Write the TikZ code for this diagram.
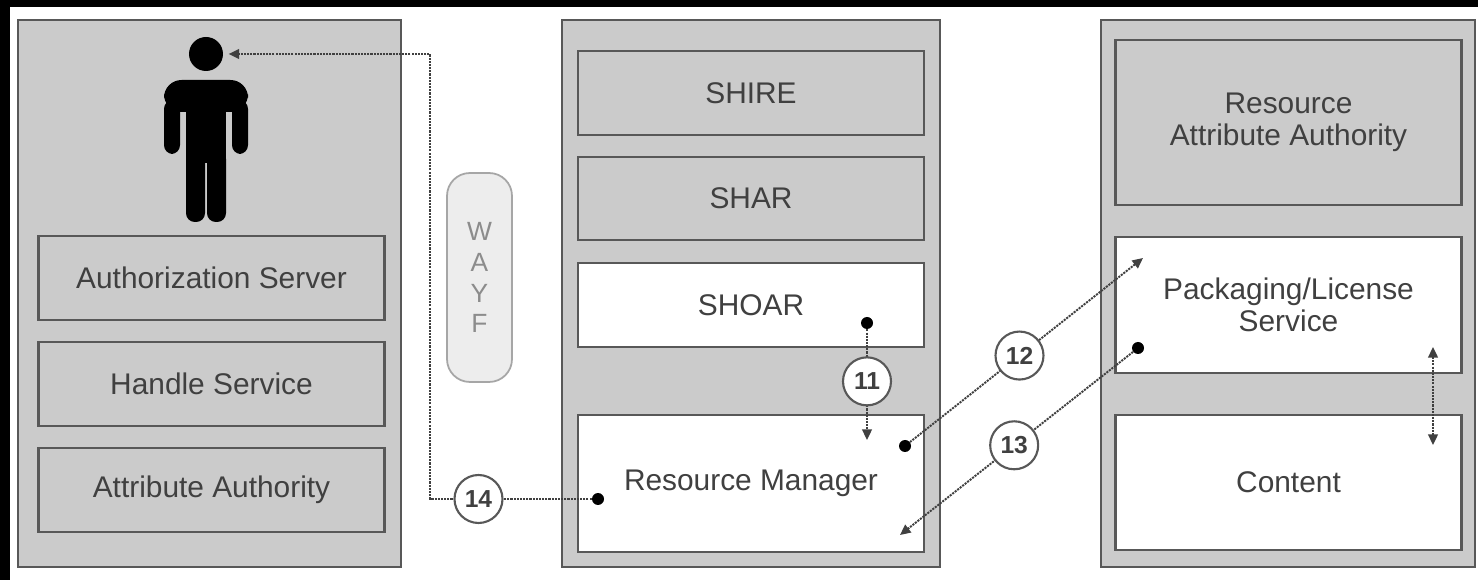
\documentclass[tikz,border=0pt]{standalone}
\usepackage{fontspec}
\setmainfont{Liberation Sans}
\usetikzlibrary{arrows.meta,positioning,calc}
\definecolor{panelgray}{HTML}{CBCBCB}
\definecolor{edgegray}{HTML}{585858}
\definecolor{textgray}{HTML}{404040}
\definecolor{wayfgray}{HTML}{EDEDED}

\begin{document}
\begin{tikzpicture}[x=0.02cm,y=-0.02cm,
    panel/.style={draw=edgegray, line width=1.3pt, fill=panelgray, minimum width=#1, minimum height=10.94cm, inner sep=0pt},
    block/.style={draw=edgegray, line width=1.3pt, fill=panelgray, text=textgray, align=center, inner sep=0pt,
        minimum width=6.92cm, minimum height=#1, font=\fontsize{17}{18}\selectfont},
    whitebox/.style={block=#1, fill=white},
    dot/.style={circle, fill=black, inner sep=0pt, minimum size=0.24cm},
    numc/.style={circle, solid, draw=edgegray, line width=1.2pt, fill=white, minimum size=0.96cm, inner sep=0pt,
        text=textgray, font=\fontsize{14}{14}\selectfont\bfseries},
    flow/.style={draw=black!75, line width=1.1pt, dash pattern=on 1.2pt off 0.6pt, -{Triangle[length=6pt,width=5.5pt]}}]

    % frame
    \fill[black] (0,0) rectangle (1478,580);
    \fill[white] (10,7) rectangle (1478,580);

    % the three columns
    \node[panel=7.66cm] (idp) at (209.5,293.5) {};
    \node[panel=7.56cm] (sp) at (751,293.5) {};
    \node[panel=7.48cm] (rp) at (1288,293.5) {};

    \node[block=1.68cm] (authz) at (211.5,278) {Authorization Server};
    \node[block=1.68cm] (handle) at (211.5,384) {Handle Service};
    \node[block=1.68cm] (attr) at (211.5,490) {Attribute Authority};

    \node[block=1.68cm] (shire) at (751,93) {SHIRE};
    \node[block=1.66cm] (shar) at (751,198.5) {SHAR};
    \node[whitebox=1.68cm] (shoar) at (751,305) {SHOAR};
    \node[whitebox=2.74cm] (rm) at (751,483.5) {Resource Manager};

    \node[block=3.3cm] (raa) at (1288.5,122.5) {Resource\\Attribute Authority};
    \node[whitebox=2.72cm] (pack) at (1288.5,305) {Packaging/License\\Service};
    \node[whitebox=2.7cm] (content) at (1288.5,482.5) {Content};

    \node[draw=black!35, line width=1pt, fill=wayfgray, rounded corners=13pt, minimum width=1.3cm,
        minimum height=4.18cm, text=black!45, align=center, font=\fontsize{15}{17.6}\selectfont]
        (wayf) at (479.5,277.5) {W\\A\\Y\\F};

    % user
    \node[circle, fill=black, minimum size=0.68cm, inner sep=0pt] (head) at (206,54) {};
    \fill[rounded corners=10pt] (164,80) rectangle (248,112);
    \fill[rounded corners=5pt] (164,100) rectangle (180,154);
    \fill[rounded corners=5pt] (232,100) rectangle (248,154);
    \fill (186,100) rectangle (226,163);
    \fill[rounded corners=5pt] (186,150) rectangle (205,222);
    \fill[rounded corners=5pt] (207,150) rectangle (226,222);

    % end points
    \node[dot] (d11) at (867,323) {};
    \node[dot] (d12) at (905,446) {};
    \node[dot] (d13) at (1138,348) {};
    \node[dot] (d14) at (598,499) {};
    \coordinate (t11) at (867,440);
    \coordinate (t12) at (1143,258);
    \coordinate (t13) at (900,535);
    \coordinate (k14) at (430,499);
    \coordinate (pa) at (1433,347);
    \coordinate (pb) at (1433,445);

    \draw[flow] (d11) -- node[numc, pos=0.47] (n11) {11} (t11);
    \draw[flow] (d12) -- node[numc, pos=0.47] (n12) {12} (t12);
    \draw[flow] (d13) -- node[numc, pos=0.51] (n13) {13} (t13);
    \draw[flow, shorten >=3pt] (d14) -- node[numc, pos=0.7] (n14) {14} (k14) |- (head.east);
    \draw[flow, {Triangle[length=6pt,width=5.5pt]}-{Triangle[length=6pt,width=5.5pt]}] (pa) -- (pb);
\end{tikzpicture}
\end{document}
